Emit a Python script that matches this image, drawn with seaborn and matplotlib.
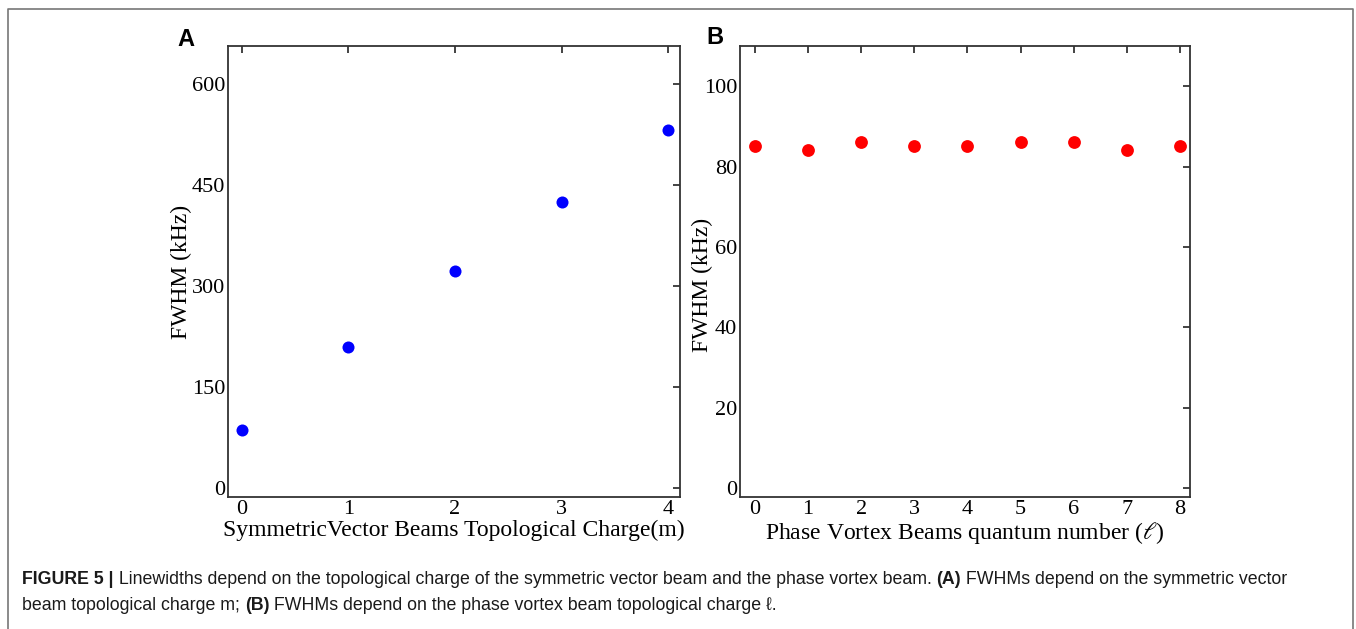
import numpy as np
import pandas as pd
import matplotlib
matplotlib.use('Agg')
import matplotlib.pyplot as plt
import seaborn as sns

# panel A: symmetric vector beams
charge_m = [0, 1, 2, 3, 4]
fwhm_m = [86, 209, 322, 425, 532]

# panel B: phase vortex beams
charge_l = [0, 1, 2, 3, 4, 5, 6, 7, 8]
fwhm_l = [85, 84, 86, 85, 85, 86, 86, 84, 85]

ticks_a = [0, 150, 300, 450, 600]
ticks_b = [0, 20, 40, 60, 80, 100]

sns.set_theme(style='white')
plt.rcParams['font.family'] = ['Liberation Serif', 'DejaVu Serif']
plt.rcParams['mathtext.fontset'] = 'stix'
plt.rcParams['text.color'] = 'black'
plt.rcParams['axes.labelcolor'] = 'black'
plt.rcParams['xtick.color'] = 'black'
plt.rcParams['ytick.color'] = 'black'

fig = plt.figure(figsize=(13.56, 6.29), dpi=100)
axA = fig.add_axes([0.1681, 0.2099, 0.3333, 0.717])
axB = fig.add_axes([0.5457, 0.2099, 0.3319, 0.717])

df_a = pd.DataFrame({'m': charge_m, 'fwhm': fwhm_m})
df_b = pd.DataFrame({'l': charge_l, 'fwhm': fwhm_l})

sns.scatterplot(data=df_a, x='m', y='fwhm', ax=axA, color='#0000ff',
                s=75, linewidth=0)
sns.scatterplot(data=df_b, x='l', y='fwhm', ax=axB, color='#ff0000',
                s=85, linewidth=0)

axA.set_xlim(-0.13, 4.11)
axA.set_ylim(-13, 656)
axA.set_xticks(charge_m)
axA.set_yticks(ticks_a)
axA.set_xlabel('SymmetricVector Beams Topological Charge(m)', fontsize=17, labelpad=1)
axA.set_ylabel('FWHM (kHz)', fontsize=17)
axA.yaxis.set_label_coords(-0.08, 0.5)

axB.set_xlim(-0.28, 8.19)
axB.set_ylim(-2.2, 110)
axB.set_xticks(charge_l)
axB.set_yticks(ticks_b)
axB.set_xlabel('Phase Vortex Beams quantum number ($\\ell$)', fontsize=17, labelpad=1)
axB.set_ylabel('FWHM (kHz)', fontsize=17)
axB.yaxis.set_label_coords(-0.06, 0.47)

for ax in (axA, axB):
    ax.tick_params(direction='in', length=5, width=1.2, top=True, right=True,
                   labelsize=16, pad=2, color='#222222')
    for sp in ax.spines.values():
        sp.set_color('#333333')
        sp.set_linewidth(1.3)

fig.text(177 / 1356, 1 - 40 / 629, 'A', fontsize=17, fontweight='bold',
         family='Liberation Sans', va='center', ha='left')
fig.text(706 / 1356, 1 - 38 / 629, 'B', fontsize=17, fontweight='bold',
         family='Liberation Sans', va='center', ha='left')

# frame round the figure (open at the bottom)
fx0, fx1, fy1 = 8 / 1356, 1353 / 1356, 1 - 9 / 629
fig.add_artist(plt.Line2D([fx0, fx0, fx1, fx1], [0, fy1, fy1, 0],
                          transform=fig.transFigure, color='#777777', lw=1.2))

# caption with bold parts
cap_family = ['Liberation Sans Narrow', 'Liberation Sans', 'DejaVu Sans']
lines = [
    [('FIGURE 5 |', 'bold'),
     (' Linewidths depend on the topological charge of the symmetric vector beam and the phase vortex beam. ', 'normal'),
     ('(A)', 'bold'),
     (' FWHMs depend on the symmetric vector', 'normal')],
    [('beam topological charge m; ', 'normal'), ('(B)', 'bold'),
     (' FWHMs depend on the phase vortex beam topological charge \u2113.', 'normal')],
]
fig.canvas.draw()
renderer = fig.canvas.get_renderer()
ys = [1 - 580 / 629, 1 - 606 / 629]
for parts, y in zip(lines, ys):
    x = 22 / 1356
    for txt, w in parts:
        t = fig.text(x, y, txt, fontsize=12.75, fontweight=w, family=cap_family,
                     va='center', ha='left', color='#1a1a1a')
        bb = t.get_window_extent(renderer)
        x += bb.width / fig.bbox.width

fig.savefig('out.png', dpi=100)
